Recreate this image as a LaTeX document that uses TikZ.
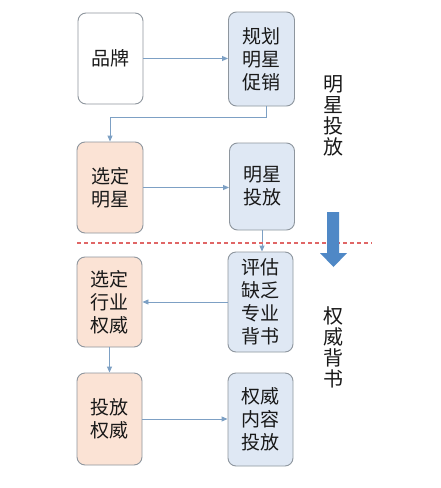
\documentclass[tikz,border=0pt]{standalone}
\usepackage{fontspec}
\newfontfamily\cjk{Noto Sans CJK SC}
\usetikzlibrary{arrows.meta}
\definecolor{bluefill}{HTML}{DFE8F4}
\definecolor{orangefill}{HTML}{FBE3D5}
\definecolor{boxline}{HTML}{8E969E}
\definecolor{conn}{HTML}{7DA0C4}
\definecolor{bigarrow}{HTML}{4F88C6}
\definecolor{reddash}{HTML}{E06666}
\tikzset{
  box/.style={draw=boxline, line width=0.9pt, rounded corners=8pt, inner sep=0pt,
    font=\cjk\fontsize{19}{23}\selectfont, align=center, text=black!90},
  whitebox/.style={box, fill=white},
  bluebox/.style={box, fill=bluefill},
  orangebox/.style={box, fill=orangefill},
  conn/.style={draw=conn, line width=0.9pt, -{Triangle[length=6pt,width=5pt]}},
  vtext/.style={font=\cjk\fontsize{20}{21}\selectfont, align=center, inner sep=0pt, text=black!90}
}
\begin{document}
\begin{tikzpicture}[x=1pt,y=-1pt]
\useasboundingbox[fill=white] (0,0) rectangle (441,488);
\node[whitebox, minimum width=65pt, minimum height=91pt] (pinpai) at (110.5,58.5) {品牌};
\node[bluebox, minimum width=66pt, minimum height=94pt] (guihua) at (261.5,59) {规划\\明星\\促销};
\node[orangebox, minimum width=66pt, minimum height=91pt] (xuanding) at (110,187.5) {选定\\明星};
\node[bluebox, minimum width=65pt, minimum height=87pt] (mingxing) at (262,186.5) {明星\\投放};
\node[bluebox, minimum width=65pt, minimum height=100pt] (pinggu) at (260.5,302) {评估\\缺乏\\专业\\背书};
\node[orangebox, minimum width=65pt, minimum height=90pt] (xuanding2) at (109.5,302) {选定\\行业\\权威};
\node[orangebox, minimum width=65pt, minimum height=92pt] (toufang) at (109.5,419) {投放\\权威};
\node[bluebox, minimum width=65pt, minimum height=93pt] (quanwei) at (260.5,419.5) {权威\\内容\\投放};

\coordinate (g1) at ([xshift=5pt]guihua.south);
\coordinate (g2) at ([yshift=-11pt]g1);
\draw[conn] (pinpai.east) -- (pinpai.east -| guihua.west);
\draw[conn] (g1) -- (g2) -| (xuanding.north);
\draw[conn] (xuanding.east) -- (xuanding.east -| mingxing.west);
\draw[conn] (mingxing.south) -- (mingxing.south |- pinggu.north);
\draw[conn] (pinggu.west) -- (pinggu.west -| xuanding2.east);
\draw[conn] (xuanding2.south) -- (xuanding2.south |- toufang.north);
\draw[conn] (toufang.east) -- (toufang.east -| quanwei.west);

\coordinate (d1) at (77,243);
\coordinate (d2) at (372,243);
\draw[reddash, line width=1.1pt, dash pattern=on 4pt off 3pt] (d1) -- (d2);

\fill[bigarrow] (327,212) -- (339,212) -- (339,253) -- (347,253) -- (333.5,267) -- (320,253) -- (327,253) -- cycle;

\node[vtext] (v1) at (333,115.5) {明\\星\\投\\放};
\node[vtext] (v2) at (333,347) {权\\威\\背\\书};
\end{tikzpicture}
\end{document}
